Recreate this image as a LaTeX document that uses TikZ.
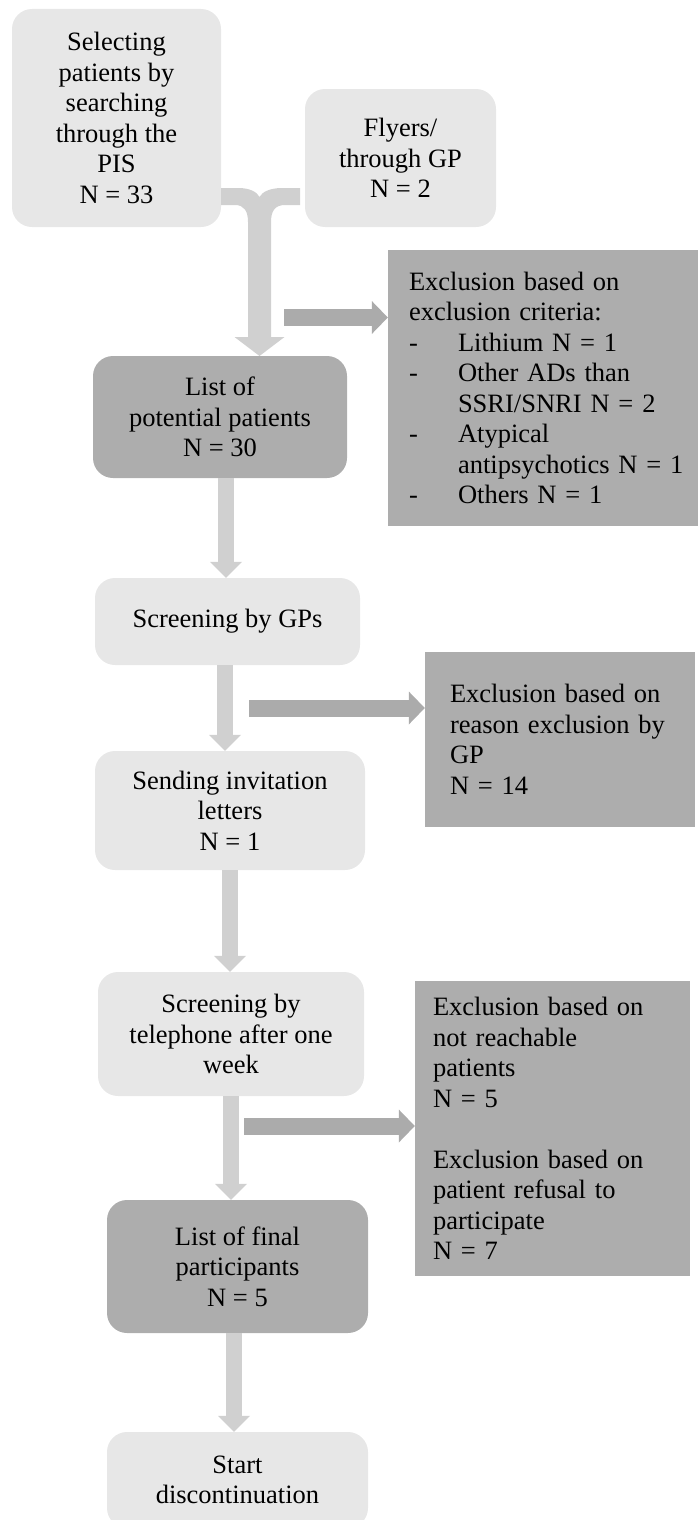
\documentclass[tikz,border=0pt]{standalone}
\usepackage{fontspec}
\setmainfont{Liberation Serif}
\usetikzlibrary{arrows.meta, positioning, calc}

\definecolor{boxlight}{HTML}{E7E7E7}
\definecolor{boxdark}{HTML}{ADADAD}
\definecolor{arrowlight}{HTML}{D0D0D0}
\definecolor{arrowdark}{HTML}{ABABAB}

\newcommand{\itemdash}{\makebox[49pt][l]{-}}
\newcommand{\itemgap}{\hspace*{49pt}}

\begin{document}
\begin{tikzpicture}[x=1pt, y=-1pt,
  every node/.style={font=\fontsize{26.5}{30.5}\selectfont, inner sep=0pt},
  lightbox/.style={fill=boxlight, rounded corners=20pt, align=center},
  darkbox/.style={fill=boxdark, rounded corners=20pt, align=center},
  exclbox/.style={fill=boxdark, align=left},
  downarrow/.style={draw=arrowlight, line width=16pt, -{Triangle[length=16pt, width=32pt, line width=0pt]}},
  sidearrow/.style={draw=arrowdark, line width=17pt, -{Triangle[length=16pt, width=33pt, line width=0pt]}}]

\useasboundingbox (0,0) rectangle (699,1520);

% Recruitment sources
\node[lightbox, minimum width=209pt, minimum height=218pt] (pis) at (116.5,118)
  {Selecting\\patients by\\searching\\through the\\PIS\\N = 33};
\node[lightbox, minimum width=191pt, minimum height=138pt] (flyers) at (400.5,158)
  {Flyers/\\through GP\\N = 2};

% Merging arrow
\fill[arrowlight] (pis.east |- 0,188) -- (238,188)
  .. controls (250,188) and (257,192) .. (259.5,197)
  .. controls (262,192) and (270,188) .. (282,188) -- (300,188) -- (300,205)
  -- (285,205) .. controls (275,205) and (271,211) .. (271,222) -- (271,337)
  -- (284.5,337) -- (259.5,356) -- (234.5,337) -- (248,337) -- (248,222)
  .. controls (248,211) and (244,205) .. (235,205) -- (pis.east |- 0,205) -- cycle;

% List of potential patients
\node[darkbox, minimum width=254pt, minimum height=122pt] (potential) at (220,417)
  {List of\\potential patients\\N = 30};

% Exclusion based on criteria
\node[exclbox, text width=268pt, inner xsep=21pt, minimum height=276pt] (crit) at (543,388)
  {Exclusion based on\\
   exclusion criteria:\\
   \itemdash Lithium N = 1\\
   \itemdash Other ADs than\\
   \itemgap SSRI/SNRI N = 2\\
   \itemdash Atypical\\
   \itemgap\mbox{antipsychotics N = 1}\\
   \itemdash Others N = 1};
\coordinate (s1) at (284,317.5);
\draw[sidearrow] (s1) -- (s1 -| crit.west);

% Screening by GPs
\node[lightbox, minimum width=265pt, minimum height=87pt] (gps) at (227.5,621.5)
  {Screening by GPs};
\coordinate (c2) at (226,0);
\draw[downarrow] (potential.south -| c2) -- (gps.north -| c2);

\node[exclbox, text width=220pt, inner xsep=25pt, minimum height=175pt] (gpexcl) at (560,739.5)
  {Exclusion based on\\\mbox{reason exclusion by}\\GP\\N = 14};
\coordinate (s2) at (249,708);
\draw[sidearrow] (s2) -- (s2 -| gpexcl.west);

% Invitation letters
\node[lightbox, minimum width=270pt, minimum height=119pt] (invite) at (230,810.5)
  {Sending invitation\\letters\\N = 1};
\coordinate (c3) at (225,0);
\draw[downarrow] (gps.south -| c3) -- (invite.north -| c3);

% Telephone screening
\node[lightbox, minimum width=266pt, minimum height=124pt] (phone) at (231,1034)
  {Screening by\\telephone after one\\week};
\coordinate (c4) at (230,0);
\draw[downarrow] (invite.south -| c4) -- (phone.north -| c4);

\node[exclbox, text width=239pt, inner xsep=18pt, minimum height=295pt] (phoneexcl) at (552.5,1128.5)
  {Exclusion based on\\not reachable\\patients\\N = 5\\[30.5pt]
   Exclusion based on\\patient refusal to\\participate\\N = 7};
\coordinate (s3) at (244,1126);
\draw[sidearrow] (s3) -- (s3 -| phoneexcl.west);

% Final participants
\node[darkbox, minimum width=261pt, minimum height=133pt] (final) at (237.5,1266.5)
  {List of final\\participants\\N = 5};
\coordinate (c5) at (231,0);
\draw[downarrow] (phone.south -| c5) -- (final.north -| c5);

% Start
\node[lightbox, minimum width=261pt, minimum height=96pt] (start) at (237.5,1480)
  {Start\\discontinuation};
\coordinate (c6) at (234,0);
\draw[downarrow] (final.south -| c6) -- (start.north -| c6);

\end{tikzpicture}
\end{document}
